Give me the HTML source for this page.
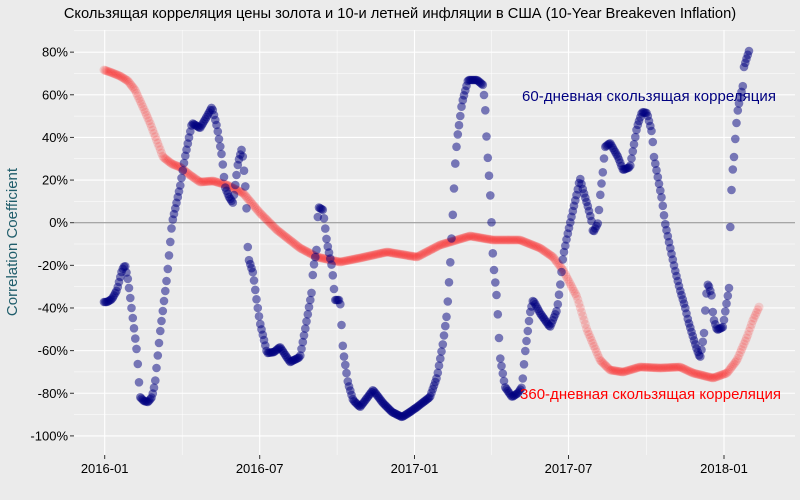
<!DOCTYPE html>
<html><head><meta charset="utf-8"><style>
html,body{margin:0;padding:0;background:#ebebeb;}
svg{display:block;font-family:"Liberation Sans","DejaVu Sans",sans-serif;}
</style></head><body>
<svg id="s" width="800" height="500" viewBox="0 0 800 500" xmlns="http://www.w3.org/2000/svg">
<rect width="800" height="500" fill="#ebebeb"/>
<g id="grid"></g>
<line x1="74" x2="795" y1="222.7" y2="222.7" stroke="#8a8a8a" stroke-width="1"/>
<g id="red"></g>
<g id="blue"></g>
<g id="axes" font-size="13" fill="#000"></g>
<text x="400" y="18" font-size="14.7" text-anchor="middle" fill="#000">Скользящая корреляция цены золота и 10-и летней инфляции в США (10-Year Breakeven Inflation)</text>
<text transform="translate(17,242) rotate(-90)" font-size="15" text-anchor="middle" fill="#1f5d6b">Correlation Coefficient</text>
<text x="522" y="101" font-size="15" fill="#000080" textLength="254">60-дневная скользящая корреляция</text>
<text x="520" y="399" font-size="15" fill="#ff0000" textLength="261">360-дневная скользящая корреляция</text>
</svg>
<script>
var NS="http://www.w3.org/2000/svg";
function el(p,t,a){var e=document.createElementNS(NS,t);for(var k in a)e.setAttribute(k,a[k]);p.appendChild(e);return e;}
var g=document.getElementById('grid'),ax=document.getElementById('axes');
function Y(v){return 222.7-v*2.132;}
for(var v=-100;v<=90;v+=10){var y=Y(v);if(y<30||y>455)continue;
 el(g,'line',{x1:74,x2:795,y1:y,y2:y,stroke:'#fff','stroke-width':(v%20==0)?1.1:0.5});}
var xs=[104.7,259.7,414.5,568.5,724];var lab=['2016-01','2016-07','2017-01','2017-07','2018-01'];
for(var i=0;i<xs.length;i++){el(g,'line',{x1:xs[i],x2:xs[i],y1:30,y2:455,stroke:'#fff','stroke-width':1.1});
 if(i<xs.length-1){var m=(xs[i]+xs[i+1])/2;el(g,'line',{x1:m,x2:m,y1:30,y2:455,stroke:'#fff','stroke-width':0.5});}
 el(ax,'line',{x1:xs[i],x2:xs[i],y1:455,y2:459,stroke:'#333'});
 var t=el(ax,'text',{x:xs[i],y:473,'text-anchor':'middle'});t.textContent=lab[i];}
for(var v=-100;v<=80;v+=20){var y=Y(v);el(ax,'line',{x1:70,x2:74,y1:y,y2:y,stroke:'#333'});
 var t=el(ax,'text',{x:68,y:y+4.5,'text-anchor':'end'});t.textContent=v+'%';}
var blue=[[104,302],[107,302],[112,299],[117,290],[122,270],[125,265],[128,280],[133,320],[137,353],[140,397],[144,401],[148,402],[152,397],[155,383],[160,333],[167,277],[172,223],[180,187],[185,157],[192,123],[200,128],[206,118],[212,107],[217,127],[222,157],[225,187],[229,197],[233,203],[238,163],[242,148],[245,182],[247,217],[248,257],[253,273],[257,303],[260,323],[267,353],[274,352],[280,347],[290,362],[300,357],[305,330],[312,290],[313,270],[317,247],[318,207],[323,210],[327,243],[332,267],[335,300],[340,300],[343,350],[348,383],[353,400],[360,407],[367,398],[373,390],[383,403],[392,412],[402,417],[410,412],[417,407],[430,397],[437,377],[443,343],[447,313],[450,267],[453,210],[455,167],[457,140],[462,103],[468,80],[477,80],[483,85],[485,105],[487,147],[490,190],[492,233],[493,260],[497,300],[500,357],[505,387],[512,397],[518,393],[522,387],[525,353],[530,313],[533,300],[540,313],[550,327],[557,310],[560,287],[563,257],[567,237],[573,210],[577,193],[580,178],[583,190],[588,207],[592,223],[593,233],[598,223],[600,197],[603,170],[605,147],[610,143],[618,157],[623,170],[630,167],[633,150],[637,127],[642,112],[647,113],[652,133],[654,157],[657,173],[662,200],[665,223],[670,247],[675,270],[680,290],[685,307],[688,320],[693,337],[697,350],[700,358],[702,347],[704,333],[706,297],[708,283],[712,297],[713,317],[717,330],[723,327],[725,313],[729,288],[730,235],[731,203],[732,177],[734,157],[736,128],[738,108],[743,85],[744,67],[747,57],[749,51]];
var red=[[104,70],[110,72],[120,76],[128,81],[135,90],[142,105],[150,123],[163,157],[172,164],[180,167],[190,175],[200,182],[213,181],[227,185],[243,193],[260,213],[277,230],[300,248],[317,257],[340,262],[360,258],[387,252],[417,257],[440,245],[470,236],[493,240],[520,240],[540,248],[553,257],[563,270],[577,297],[587,330],[600,360],[610,370],[623,372],[640,367],[660,368],[680,367],[693,373],[713,378],[727,373],[737,360],[747,337],[753,320],[760,305]];
function draw(pts,gid,fill,op,r,step){var gg=document.getElementById(gid);
 for(var x=pts[0][0];x<=pts[pts.length-1][0];x+=step){
  for(var i=0;i<pts.length-1;i++){if(x>=pts[i][0]&&x<=pts[i+1][0])break;}
  var a=pts[i],b=pts[i+1]||a;var f=(b[0]-a[0])?(x-a[0])/(b[0]-a[0]):0;
  var y=a[1]+(b[1]-a[1])*f;
  el(gg,'circle',{cx:x.toFixed(1),cy:y.toFixed(1),r:r,fill:fill,'fill-opacity':op});}}
draw(red,'red','#ff0000',0.14,4.5,1.25);
draw(blue,'blue','#000080',0.5,4.3,1.25);
</script>
</body></html>
